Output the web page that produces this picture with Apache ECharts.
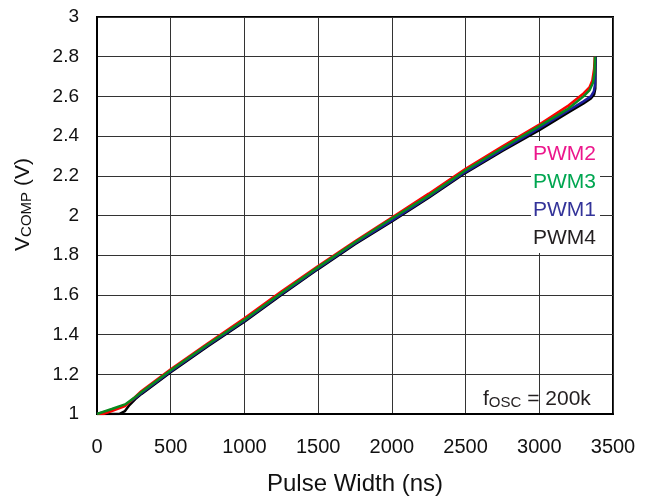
<!DOCTYPE html>
<html>
<head>
<meta charset="utf-8">
<script src="https://cdn.jsdelivr.net/npm/echarts@6/dist/echarts.min.js"></script>
<style>
html,body{margin:0;padding:0;background:#fff;}
#chart{width:650px;height:501px;}
</style>
</head>
<body>
<div id="chart"></div>
<script>
var xTicks = [0, 500, 1000, 1500, 2000, 2500, 3000, 3500];
var yTicks = [1, 1.2, 1.4, 1.6, 1.8, 2, 2.2, 2.4, 2.6, 2.8, 3];

var pwm4X = [0, 150, 190, 220, 260, 300, 400, 500, 750, 1000, 1250, 1500, 1750, 2000, 2250, 2500, 2750, 3000, 3200, 3300, 3350, 3372, 3380, 3382];
var pwm4Y = [1.0, 1.0, 1.015, 1.045, 1.075, 1.1, 1.155, 1.21, 1.34, 1.465, 1.6, 1.73, 1.855, 1.97, 2.09, 2.215, 2.325, 2.43, 2.52, 2.565, 2.59, 2.61, 2.64, 2.8];

var pwm1X = [0, 100, 195, 250, 300, 400, 500, 750, 1000, 1250, 1500, 1750, 2000, 2250, 2500, 2750, 3000, 3200, 3300, 3350, 3370, 3378, 3380];
var pwm1Y = [1.0, 1.02, 1.045, 1.075, 1.105, 1.16, 1.215, 1.345, 1.47, 1.605, 1.735, 1.86, 1.975, 2.095, 2.22, 2.332, 2.44, 2.53, 2.575, 2.6, 2.625, 2.66, 2.8];

var pwm2X = [0, 40, 100, 190, 250, 300, 400, 500, 750, 1000, 1250, 1500, 1750, 2000, 2250, 2500, 2750, 3000, 3200, 3300, 3340, 3360, 3372, 3376];
var pwm2Y = [1.0, 1.0, 1.015, 1.04, 1.08, 1.115, 1.17, 1.225, 1.355, 1.482, 1.617, 1.745, 1.87, 1.99, 2.11, 2.235, 2.348, 2.458, 2.555, 2.615, 2.645, 2.68, 2.74, 2.8];

var pwm3X = [0, 100, 195, 250, 300, 400, 500, 750, 1000, 1250, 1500, 1750, 2000, 2250, 2500, 2750, 3000, 3200, 3300, 3340, 3365, 3375, 3378];
var pwm3Y = [1.0, 1.025, 1.05, 1.08, 1.11, 1.165, 1.22, 1.35, 1.475, 1.61, 1.74, 1.865, 1.985, 2.1, 2.228, 2.34, 2.45, 2.54, 2.6, 2.63, 2.67, 2.72, 2.8];

var legendNames = ['PWM2', 'PWM3', 'PWM1', 'PWM4'];

function pairs(xs, ys) {
  return xs.map(function (x, i) { return [x, ys[i]]; });
}

var FONT = '"Liberation Sans", Arial, sans-serif';
var chart = echarts.init(document.getElementById('chart'), null, {renderer: 'canvas'});

var lineSeries = function (name, color, xs, ys) {
  return {
    name: name,
    type: 'line',
    data: pairs(xs, ys),
    showSymbol: false,
    symbol: 'none',
    lineStyle: {color: color, width: 2.5},
    itemStyle: {color: color},
    animation: false
  };
};

chart.setOption({
  animation: false,
  backgroundColor: '#fff',
  grid: {left: 97, top: 17, right: 37, bottom: 84, show: true, borderColor: '#000', borderWidth: 2, backgroundColor: 'transparent'},
  xAxis: {
    type: 'value', min: xTicks[0], max: xTicks[xTicks.length - 1], interval: 500,
    name: 'Pulse Width (ns)', nameLocation: 'middle', nameGap: 58,
    nameTextStyle: {fontFamily: FONT, fontSize: 24, color: '#111'},
    axisLine: {show: true, lineStyle: {color: '#000', width: 2}},
    axisTick: {show: false},
    axisLabel: {fontFamily: FONT, fontSize: 20, color: '#111', margin: 23,
      formatter: function (v) { return String(v); }},
    splitLine: {show: true, lineStyle: {color: '#333', width: 1}}
  },
  yAxis: {
    type: 'value', min: yTicks[0], max: yTicks[yTicks.length - 1], interval: 0.2,
    name: '{a|V}{b|COMP}{a| (V)}', nameLocation: 'middle', nameGap: 63, nameRotate: 90,
    nameTextStyle: {
      fontFamily: FONT, color: '#111', padding: [0, 0, 0, 22],
      rich: {
        a: {fontFamily: FONT, fontSize: 21, color: '#111', lineHeight: 26, verticalAlign: 'bottom'},
        b: {fontFamily: FONT, fontSize: 15, color: '#111', lineHeight: 26, verticalAlign: 'bottom'}
      }
    },
    axisLine: {show: true, lineStyle: {color: '#000', width: 2}},
    axisTick: {show: false},
    axisLabel: {fontFamily: FONT, fontSize: 19, color: '#111', margin: 18,
      formatter: function (v) { return String(Math.round(v * 10) / 10); }},
    splitLine: {show: true, lineStyle: {color: '#333', width: 1}}
  },
  legend: {
    data: [
      {name: legendNames[0], icon: 'none', textStyle: {color: '#ec178c'}},
      {name: legendNames[1], icon: 'none', textStyle: {color: '#00a651'}},
      {name: legendNames[2], icon: 'none', textStyle: {color: '#333399'}},
      {name: legendNames[3], icon: 'none', textStyle: {color: '#231f20'}}
    ],
    orient: 'vertical',
    left: 531, top: 141,
    itemWidth: 0, itemHeight: 21, itemGap: 7,
    padding: [3, 4, 4, 2],
    backgroundColor: '#fff',
    selectedMode: false,
    textStyle: {fontFamily: FONT, fontSize: 21, padding: [0, 0, 0, -5]}
  },
  graphic: [
    {
      type: 'group', left: 480, top: 383, z: 100,
      children: [
        {type: 'rect', shape: {x: 0, y: 0, width: 122, height: 29}, style: {fill: '#fff'}},
        {type: 'text', x: 3, y: 15, style: {
          text: '{a|f}{b|OSC}{a| = 200k}', verticalAlign: 'middle', fill: '#231f20',
          rich: {
            a: {fontFamily: FONT, fontSize: 21, fill: '#231f20', lineHeight: 24, verticalAlign: 'bottom'},
            b: {fontFamily: FONT, fontSize: 15, fill: '#231f20', lineHeight: 24, verticalAlign: 'bottom'}
          }
        }}
      ]
    }
  ],
  series: [
    lineSeries('PWM4', '#000000', pwm4X, pwm4Y),
    lineSeries('PWM1', '#1c1c9c', pwm1X, pwm1Y),
    lineSeries('PWM2', '#ff0000', pwm2X, pwm2Y),
    lineSeries('PWM3', '#0a8a1e', pwm3X, pwm3Y)
  ]
});
</script>
</body>
</html>
